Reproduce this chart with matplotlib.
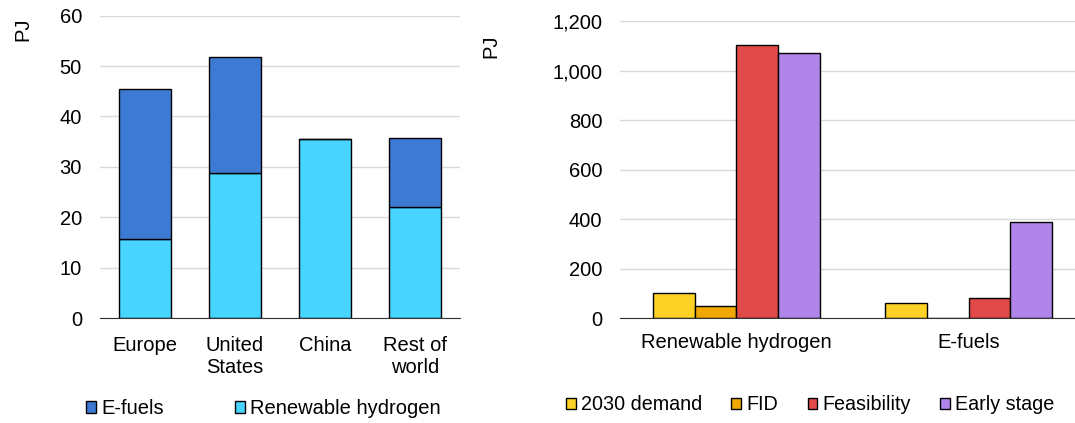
import numpy as np
import matplotlib.pyplot as plt

plt.rcParams['font.family'] = ['Liberation Sans', 'DejaVu Sans']

# left panel: pipeline by region
regions = ['Europe', 'United\nStates', 'China', 'Rest of\nworld']
rh_region = [15.7, 28.8, 35.6, 22.0]
ef_region = [29.8, 23.0, 0.0, 13.8]

# right panel: demand vs project pipeline
products = ['Renewable hydrogen', 'E-fuels']
stages = ['2030 demand', 'FID', 'Feasibility', 'Early stage']
stage_vals = {
    '2030 demand': [100, 63],
    'FID': [50, 2],
    'Feasibility': [1103, 82],
    'Early stage': [1070, 387],
}

c_ef = '#3D7AD4'
c_rh = '#47D4FF'
stage_cols = ['#FCD227', '#F0A800', '#E24A4A', '#B085EA']
grid_c = '#D9D9D9'
fs = 14.5

fig = plt.figure(figsize=(10.75, 4.23), dpi=100)

#%% left
ax1 = fig.add_axes([0.093, 0.248, 0.335, 0.715])
x = np.arange(len(regions))
b_rh = ax1.bar(x, rh_region, width=0.57, color=c_rh, edgecolor='black', linewidth=1,
               zorder=3, label='Renewable hydrogen')
b_ef = ax1.bar(x, ef_region, bottom=rh_region, width=0.57, color=c_ef, edgecolor='black',
               linewidth=1, zorder=3, label='E-fuels')
ax1.set_xlim(-0.5, 3.5)
ax1.set_ylim(0, 60)
ax1.set_yticks(range(0, 61, 10))
ax1.set_xticks(x)
ax1.set_xticklabels(regions, fontsize=fs, linespacing=1.2)
ax1.tick_params(axis='y', labelsize=fs, length=0, pad=13)
ax1.tick_params(axis='x', length=0, pad=13)
ax1.yaxis.grid(True, color=grid_c, linewidth=1, zorder=0)
for s in ['left', 'right', 'top']:
    ax1.spines[s].set_visible(False)
ax1.spines['bottom'].set_color('#333333')
ax1.spines['bottom'].set_zorder(4)
fig.text(0.021, 0.93, 'PJ', rotation=90, fontsize=fs, ha='center', va='center')
ax1.legend([b_ef, b_rh], ['E-fuels', 'Renewable hydrogen'], loc='center left',
           bbox_to_anchor=(-0.06, -0.3), ncol=2, frameon=False, fontsize=fs,
           handlelength=0.5, handleheight=0.5, handletextpad=0.25, columnspacing=3.5,
           borderaxespad=0)

#%% right
ax2 = fig.add_axes([0.577, 0.248, 0.432, 0.702])
xg = np.arange(len(products))
bw = 0.18
bars = []
for i, st in enumerate(stages):
    bars.append(ax2.bar(xg + (i - 1.5) * bw, stage_vals[st], width=bw, color=stage_cols[i],
                        edgecolor='black', linewidth=1, zorder=3, label=st))
ax2.set_xlim(-0.5, 1.5)
ax2.set_ylim(0, 1200)
ax2.set_yticks(range(0, 1201, 200))
ax2.set_yticklabels([f'{v:,}' for v in range(0, 1201, 200)])
ax2.set_xticks(xg)
ax2.set_xticklabels(products, fontsize=fs)
ax2.tick_params(axis='y', labelsize=fs, length=0, pad=13)
ax2.tick_params(axis='x', length=0, pad=11)
ax2.yaxis.grid(True, color=grid_c, linewidth=1, zorder=0)
for s in ['left', 'right', 'top']:
    ax2.spines[s].set_visible(False)
ax2.spines['bottom'].set_color('#333333')
ax2.spines['bottom'].set_zorder(4)
fig.text(0.457, 0.89, 'PJ', rotation=90, fontsize=fs, ha='center', va='center')
fig.legend(bars, stages, loc='center left', bbox_to_anchor=(0.519, 0.043), ncol=4,
           frameon=False, fontsize=14.2, handlelength=0.5, handleheight=0.5,
           handletextpad=0.25, columnspacing=1.5, borderaxespad=0)

fig.savefig('out.png', dpi=100)
